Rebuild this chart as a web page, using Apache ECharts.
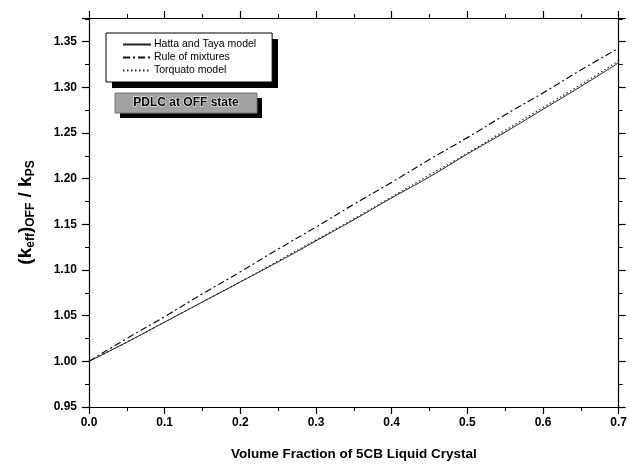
<!DOCTYPE html>
<html>
<head>
<meta charset="utf-8">
<script src="https://cdn.jsdelivr.net/npm/echarts@6/dist/echarts.min.js"></script>
<style>
  html, body { margin: 0; padding: 0; background: #fff; }
  #chart { width: 630px; height: 468px; }
</style>
</head>
<body>
<div id="chart"></div>
<script>
// 体积分数
var fraction = [0, 0.05, 0.1, 0.15, 0.2, 0.25, 0.3, 0.35, 0.4, 0.45, 0.5, 0.55, 0.6, 0.65, 0.7]
// 各模型的 keff / kPS
var hattaTaya = [1.000, 1.021, 1.043, 1.065, 1.087, 1.109, 1.132, 1.155, 1.179, 1.202, 1.227, 1.251, 1.276, 1.301, 1.327]
var ruleOfMixtures = [1.000, 1.025, 1.049, 1.074, 1.098, 1.123, 1.147, 1.172, 1.196, 1.221, 1.245, 1.270, 1.294, 1.319, 1.343]
var torquato = [1.000, 1.021, 1.043, 1.065, 1.087, 1.110, 1.133, 1.156, 1.180, 1.204, 1.228, 1.253, 1.278, 1.303, 1.329]
var seriesNames = ['Hatta and Taya model', 'Rule of mixtures', 'Torquato model']
var xTicks = ['0.0', '0.1', '0.2', '0.3', '0.4', '0.5', '0.6', '0.7']
var stateLabel = 'PDLC at OFF state'

function pairs(ys) {
    return fraction.map(function (x, i) { return [x, ys[i]] })
}

var font = 'Liberation Sans, Arial, sans-serif'

var myChart = echarts.init(document.getElementById('chart'))

var tickCommon = {
    axisLine: { show: true, onZero: false, lineStyle: { color: '#000', width: 1.2 } },
    axisTick: { show: true, inside: false, length: 7, lineStyle: { color: '#000', width: 1.2 } },
    minorTick: { show: true, splitNumber: 2, length: 4, lineStyle: { color: '#000', width: 1 } },
    splitLine: { show: false },
    minorSplitLine: { show: false }
}

myChart.setOption({
    animation: false,
    backgroundColor: '#fff',
    // 图例阴影与状态标签框
    graphic: [
        { type: 'rect', z: 1, shape: { x: 112, y: 39, width: 166, height: 49 }, style: { fill: '#000' } },
        { type: 'rect', z: 1, shape: { x: 120, y: 98, width: 142, height: 20 }, style: { fill: '#000' } },
        { type: 'rect', z: 2, shape: { x: 115, y: 93, width: 142, height: 20 }, style: { fill: '#a2a2a2', stroke: '#777', lineWidth: 1 } },
        {
            type: 'text', z: 3, x: 186, y: 103,
            style: {
                text: stateLabel, align: 'center', verticalAlign: 'middle',
                font: 'bold 12px ' + font, fill: '#000', stroke: '#fff', lineWidth: 1
            }
        }
    ],
    legend: {
        orient: 'vertical',
        left: 106,
        top: 33,
        z: 5,
        data: seriesNames,
        backgroundColor: '#fff',
        borderColor: '#000',
        borderWidth: 1,
        borderRadius: 0,
        padding: [6, 16, 6, 16],
        itemGap: 2,
        itemWidth: 28,
        itemHeight: 10,
        itemStyle: { opacity: 0 },
        textStyle: { fontFamily: font, fontSize: 10.5, color: '#000', padding: [0, 0, 0, -2] }
    },
    grid: { left: 89, right: 8, top: 18, bottom: 61 },
    xAxis: [
        Object.assign({
            type: 'value',
            min: 0,
            max: 0.7,
            interval: 0.1,
            name: 'Volume Fraction of 5CB Liquid Crystal',
            nameLocation: 'middle',
            nameGap: 40,
            nameTextStyle: { fontFamily: font, fontSize: 13.5, fontWeight: 'bold', color: '#000' },
            axisLabel: {
                fontFamily: font, fontSize: 12, fontWeight: 'bold', color: '#000', margin: 10,
                formatter: function (v) { return xTicks[Math.round(v * 10)] }
            }
        }, tickCommon),
        Object.assign({
            type: 'value',
            position: 'top',
            min: 0,
            max: 0.7,
            interval: 0.1,
            axisLabel: { show: false }
        }, tickCommon)
    ],
    yAxis: [
        Object.assign({
            type: 'value',
            min: 0.95,
            max: 1.376,
            interval: 0.05,
            name: '{n|(k}{s|eff}{n|)}{s|OFF}{n| / k}{s|PS}',
            nameLocation: 'middle',
            nameGap: 52,
            nameTextStyle: {
                rich: {
                    n: { fontFamily: font, fontSize: 19, fontWeight: 'bold', color: '#000' },
                    s: { fontFamily: font, fontSize: 12, fontWeight: 'bold', color: '#000', padding: [11, 0, 0, 0] }
                }
            },
            axisLabel: {
                fontFamily: font, fontSize: 12, fontWeight: 'bold', color: '#000', margin: 12,
                showMaxLabel: false,
                formatter: function (v) { return v.toFixed(2) }
            }
        }, tickCommon),
        Object.assign({
            type: 'value',
            position: 'right',
            min: 0.95,
            max: 1.376,
            interval: 0.05,
            axisLabel: { show: false }
        }, tickCommon)
    ],
    series: [
        {
            name: seriesNames[0],
            type: 'line',
            data: pairs(hattaTaya),
            smooth: true,
            symbol: 'none',
            lineStyle: { color: '#222', width: 1, type: 'solid' },
            itemStyle: { color: '#222' }
        },
        {
            name: seriesNames[1],
            type: 'line',
            data: pairs(ruleOfMixtures),
            smooth: true,
            symbol: 'none',
            lineStyle: { color: '#111', width: 1.2, type: [7, 3, 2, 3] },
            itemStyle: { color: '#111' }
        },
        {
            name: seriesNames[2],
            type: 'line',
            data: pairs(torquato),
            smooth: true,
            symbol: 'none',
            lineStyle: { color: '#333', width: 1.2, type: [1.5, 2.5] },
            itemStyle: { color: '#333' }
        }
    ]
})
</script>
</body>
</html>
